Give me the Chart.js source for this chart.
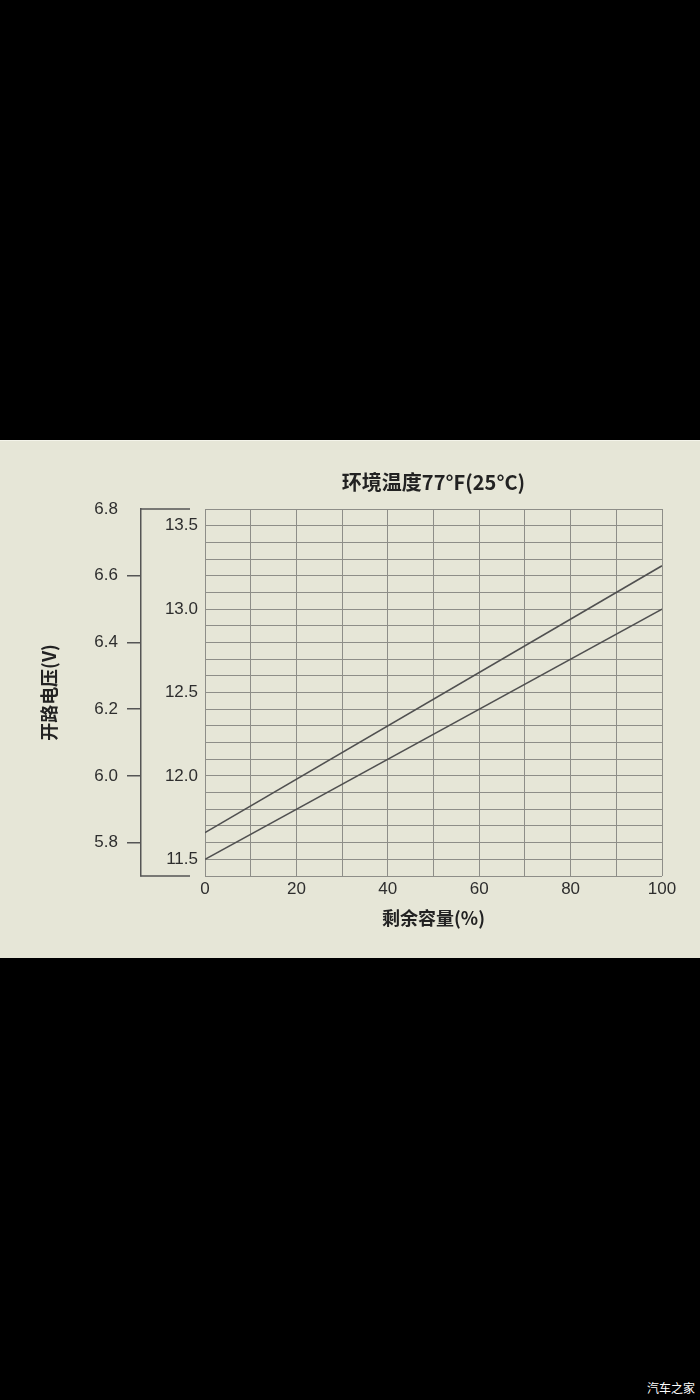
<!DOCTYPE html>
<html>
<head>
<meta charset="utf-8">
<script src="https://cdn.jsdelivr.net/npm/chart.js@4.4.1/dist/chart.umd.min.js"></script>
<style>
html,body{margin:0;padding:0;background:#000;width:700px;height:1400px;overflow:hidden;}
#edge{position:absolute;left:0;top:440px;width:700px;height:1px;background:#f4f4ea;}
#panel{position:absolute;left:0;top:441px;width:700px;height:517px;background:#e6e6d7;}
#panel canvas{position:absolute;left:0;top:0;}
#mark{position:absolute;left:647px;top:1380px;color:#fff;font:12px 'Noto Sans CJK SC',sans-serif;line-height:16px;}
</style>
</head>
<body>
<div id="edge"></div>
<div id="panel"><canvas id="c" width="700" height="517" style="width:700px;height:517px"></canvas></div>
<div id="mark">汽车之家</div>
<script>
// ---- data ----
const capacityPct = [0, 100];
const upperVolts = [11.66, 13.26];
const lowerVolts = [11.5, 13.0];
const xTickLabels = [0, 20, 40, 60, 80, 100];
const innerYLabels = [11.5, 12.0, 12.5, 13.0, 13.5];
const outerYLabels = [5.8, 6.0, 6.2, 6.4, 6.6, 6.8];
const titleText = '环境温度77°F(25°C)';
const xTitleText = '剩余容量(%)';
const yTitleText = '开路电压(V)';

const NUM_FONT = "'Liberation Sans',Arial,sans-serif";
const CJK_FONT = "'Noto Sans CJK SC','Noto Sans',sans-serif";
const GRID = '#8e8e88';
const INK = '#2e2e2e';
const LINE = '#505050';

const near = (a, b) => Math.abs(a - b) < 1e-6;

const bracketPlugin = {
  id: 'bracket',
  afterDraw(chart) {
    const s = chart.scales.y2;
    const ctx = chart.ctx;
    const x0 = s.right;
    const x1 = chart.chartArea.left - 15;
    ctx.save();
    ctx.strokeStyle = '#555';
    ctx.lineWidth = 1.5;
    ctx.beginPath();
    [s.max, s.min].forEach(v => {
      const y = s.getPixelForValue(v);
      ctx.moveTo(x0 - 0.75, y);
      ctx.lineTo(x1, y);
    });
    ctx.stroke();
    ctx.restore();
  }
};

new Chart(document.getElementById('c'), {
  type: 'line',
  data: {
    datasets: [
      { data: capacityPct.map((x, i) => ({ x, y: upperVolts[i] })), yAxisID: 'y' },
      { data: capacityPct.map((x, i) => ({ x, y: lowerVolts[i] })), yAxisID: 'y' }
    ]
  },
  options: {
    responsive: false,
    animation: false,
    devicePixelRatio: 1,
    layout: { padding: { left: 0, right: 38, top: 0, bottom: 0 } },
    elements: {
      line: { borderColor: LINE, borderWidth: 1.6, tension: 0, fill: false },
      point: { radius: 0, hoverRadius: 0 }
    },
    plugins: {
      legend: { display: false },
      tooltip: { enabled: false },
      title: {
        display: true,
        text: titleText,
        fullSize: false,
        color: '#222',
        font: { family: CJK_FONT, size: 20, weight: 'bold' },
        padding: { top: 29, bottom: 15 }
      }
    },
    scales: {
      x: {
        type: 'linear',
        min: 0, max: 100,
        afterBuildTicks(s) { const t = []; for (let i = 0; i <= 10; i++) t.push({ value: i * 10 }); s.ticks = t; },
        afterFit(s) { s.height = 82; },
        grid: { color: GRID, lineWidth: 1, drawTicks: false },
        border: { display: false },
        ticks: {
          autoSkip: false, maxRotation: 0, padding: 3, color: INK,
          font: { family: NUM_FONT, size: 17 },
          callback: v => xTickLabels.some(l => near(l, v)) ? String(v) : ''
        },
        title: {
          display: true, text: xTitleText, color: '#222',
          font: { family: CJK_FONT, size: 18, weight: 'bold' },
          padding: { top: 0, bottom: 29 }
        }
      },
      y: {
        type: 'linear', position: 'left', weight: 0,
        min: 11.4, max: 13.6,
        afterBuildTicks(s) {
          const t = [];
          for (let i = Math.round(s.min * 10); i <= Math.round(s.max * 10); i++) t.push({ value: i / 10 });
          s.ticks = t;
        },
        afterFit(s) { s.width = 64; },
        grid: { color: GRID, lineWidth: 1, drawTicks: false },
        border: { display: false },
        ticks: {
          autoSkip: false, padding: 7, color: INK,
          font: { family: NUM_FONT, size: 17 },
          callback: v => innerYLabels.some(l => near(l, v)) ? v.toFixed(1) : ''
        }
      },
      y2: {
        type: 'linear', position: 'left', weight: 1,
        min: 5.7, max: 6.8,
        afterBuildTicks(s) { s.ticks = outerYLabels.map(v => ({ value: v })); },
        afterFit(s) { s.width = 141; },
        grid: {
          drawOnChartArea: false, drawTicks: true, tickLength: 14, lineWidth: 1.5,
          color: c => (c.tick && near(c.tick.value, 6.8)) ? 'rgba(0,0,0,0)' : '#555'
        },
        border: { display: true, color: '#555', width: 1.5 },
        ticks: {
          autoSkip: false, padding: 9, color: INK,
          font: { family: NUM_FONT, size: 17 },
          callback: v => v.toFixed(1)
        },
        title: {
          display: true, text: yTitleText, color: '#222',
          font: { family: CJK_FONT, size: 18, weight: 'bold' },
          padding: { top: 38, bottom: 0 }
        }
      }
    }
  },
  plugins: [bracketPlugin]
});
</script>
</body>
</html>
